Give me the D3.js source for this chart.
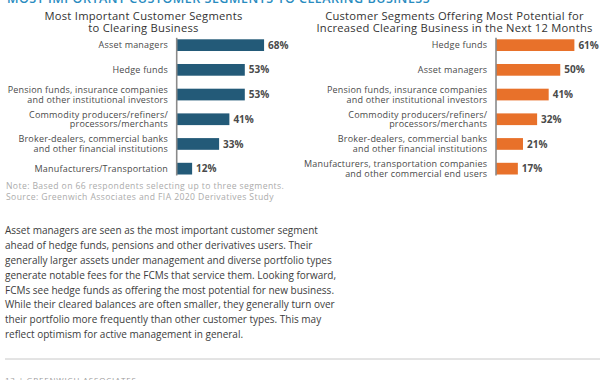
<!DOCTYPE html>
<html>
<head>
<meta charset="utf-8">
<script src="https://cdn.jsdelivr.net/npm/d3@7"></script>
<style>
  body { margin: 0; background: #fff; }
  svg { display: block; font-family: "Open Sans", sans-serif; }
</style>
</head>
<body>
<div id="chart"></div>
<script>
// left panel
var leftTitle = ["Most Important Customer Segments", "to Clearing Business"];
var leftLabels = [
    ["Asset managers"],
    ["Hedge funds"],
    ["Pension funds, insurance companies", "and other institutional investors"],
    ["Commodity producers/refiners/", "processors/merchants"],
    ["Broker-dealers, commercial banks", "and other financial institutions"],
    ["Manufacturers/Transportation"]
];
var leftValues = [68, 53, 53, 41, 33, 12];

// right panel
var rightTitle = ["Customer Segments Offering Most Potential for", "Increased Clearing Business in the Next 12 Months"];
var rightLabels = [
    ["Hedge funds"],
    ["Asset managers"],
    ["Pension funds, insurance companies", "and other institutional investors"],
    ["Commodity producers/refiners/", "processors/merchants"],
    ["Broker-dealers, commercial banks", "and other financial institutions"],
    ["Manufacturers, transportation companies", "and other commercial end users"]
];
var rightValues = [61, 50, 41, 32, 21, 17];

var header = "MOST IMPORTANT CUSTOMER SEGMENTS TO CLEARING BUSINESS";
var noteLines = [
    "Note: Based on 66 respondents selecting up to three segments.",
    "Source: Greenwich Associates and FIA 2020 Derivatives Study"
];
var bodyLines = [
    "Asset managers are seen as the most important customer segment",
    "ahead of hedge funds, pensions and other derivatives users. Their",
    "generally larger assets under management and diverse portfolio types",
    "generate notable fees for the FCMs that service them. Looking forward,",
    "FCMs see hedge funds as offering the most potential for new business.",
    "While their cleared balances are often smaller, they generally turn over",
    "their portfolio more frequently than other customer types. This may",
    "reflect optimism for active management in general."
];
var footer = "13   |   GREENWICH ASSOCIATES";

var width = 600, height = 380;

var svg = d3.select("#chart")
    .append("svg")
    .attr("width", width)
    .attr("height", height);

// page header, mostly cut off at the top
svg.append("text")
    .attr("x", 7)
    .attr("y", 2.5)
    .style("font-size", "12.5px")
    .style("font-weight", "600")
    .style("letter-spacing", "0.5px")
    .style("fill", "#2a8cbf")
    .text(header);

drawPanel(176.7, 143.5, leftTitle, leftLabels, leftValues, "#235a78");
drawPanel(496, 454.5, rightTitle, rightLabels, rightValues, "#e8712a");

function drawPanel(axisX, titleX, title, labels, values, color) {
    var g = svg.append("g");

    var x = d3.scaleLinear()
        .domain([0, 100])
        .range([axisX, axisX + 128.5]);

    var y = d3.scaleBand()
        .domain(d3.range(values.length))
        .range([32.8, 181])
        .paddingInner(0.526)
        .paddingOuter(0.263);

    g.append("text")
        .attr("x", titleX)
        .attr("y", 19.5)
        .attr("text-anchor", "middle")
        .style("font-size", "11.2px")
        .style("letter-spacing", "0.25px")
        .style("fill", "#333")
        .selectAll("tspan")
        .data(title)
        .join("tspan")
        .attr("x", titleX)
        .attr("dy", function(d, i) { return i == 0 ? 0 : 12.6; })
        .text(function(d) { return d; });

    g.selectAll("rect")
        .data(values)
        .join("rect")
        .attr("x", x(0))
        .attr("y", function(d, i) { return y(i); })
        .attr("width", function(d) { return x(d) - x(0); })
        .attr("height", y.bandwidth())
        .style("fill", color);

    g.append("line")
        .attr("x1", axisX)
        .attr("x2", axisX)
        .attr("y1", y(0) - 1.5)
        .attr("y2", y(values.length - 1) + y.bandwidth() + 1)
        .style("stroke", "#8a8a8a")
        .style("stroke-width", 1.6);

    g.selectAll(".value")
        .data(values)
        .join("text")
        .attr("class", "value")
        .attr("x", function(d) { return x(d) + 4; })
        .attr("y", function(d, i) { return y(i) + y.bandwidth() / 2 + 3.6; })
        .style("font-size", "10px")
        .style("font-weight", "bold")
        .style("fill", "#4a4a4a")
        .text(function(d) { return d + "%"; });

    var lab = g.selectAll(".label")
        .data(labels)
        .join("text")
        .attr("class", "label")
        .attr("text-anchor", "end")
        .style("font-size", "9px")
        .style("letter-spacing", "0.2px")
        .style("fill", "#4a4a4a")
        .attr("y", function(d, i) {
            var mid = y(i) + y.bandwidth() / 2;
            return mid + 3.2 - (d.length - 1) * 4.75;
        });

    lab.selectAll("tspan")
        .data(function(d) { return d; })
        .join("tspan")
        .attr("x", axisX - 8.7)
        .attr("dy", function(d, i) { return i == 0 ? 0 : 9.5; })
        .text(function(d) { return d; });
}

// note / source
svg.append("g")
    .selectAll("text")
    .data(noteLines)
    .join("text")
    .attr("x", 6)
    .attr("y", function(d, i) { return 189 + i * 11; })
    .style("font-size", "8.6px")
    .style("letter-spacing", "0.4px")
    .style("fill", "#ababab")
    .text(function(d) { return d; });

// body copy
svg.append("g")
    .selectAll("text")
    .data(bodyLines)
    .join("text")
    .attr("x", 5)
    .attr("y", function(d, i) { return 234.3 + i * 14.8; })
    .style("font-size", "10px")
    .style("fill", "#3c3c3c")
    .text(function(d) { return d; });

svg.append("line")
    .attr("x1", 5)
    .attr("x2", 600)
    .attr("y1", 359)
    .attr("y2", 359)
    .style("stroke", "#c8c8c8")
    .style("stroke-width", 1);

svg.append("text")
    .attr("x", 5)
    .attr("y", 383)
    .style("font-size", "8px")
    .style("letter-spacing", "0.8px")
    .style("fill", "#9a9a9a")
    .text(footer);
</script>
</body>
</html>
